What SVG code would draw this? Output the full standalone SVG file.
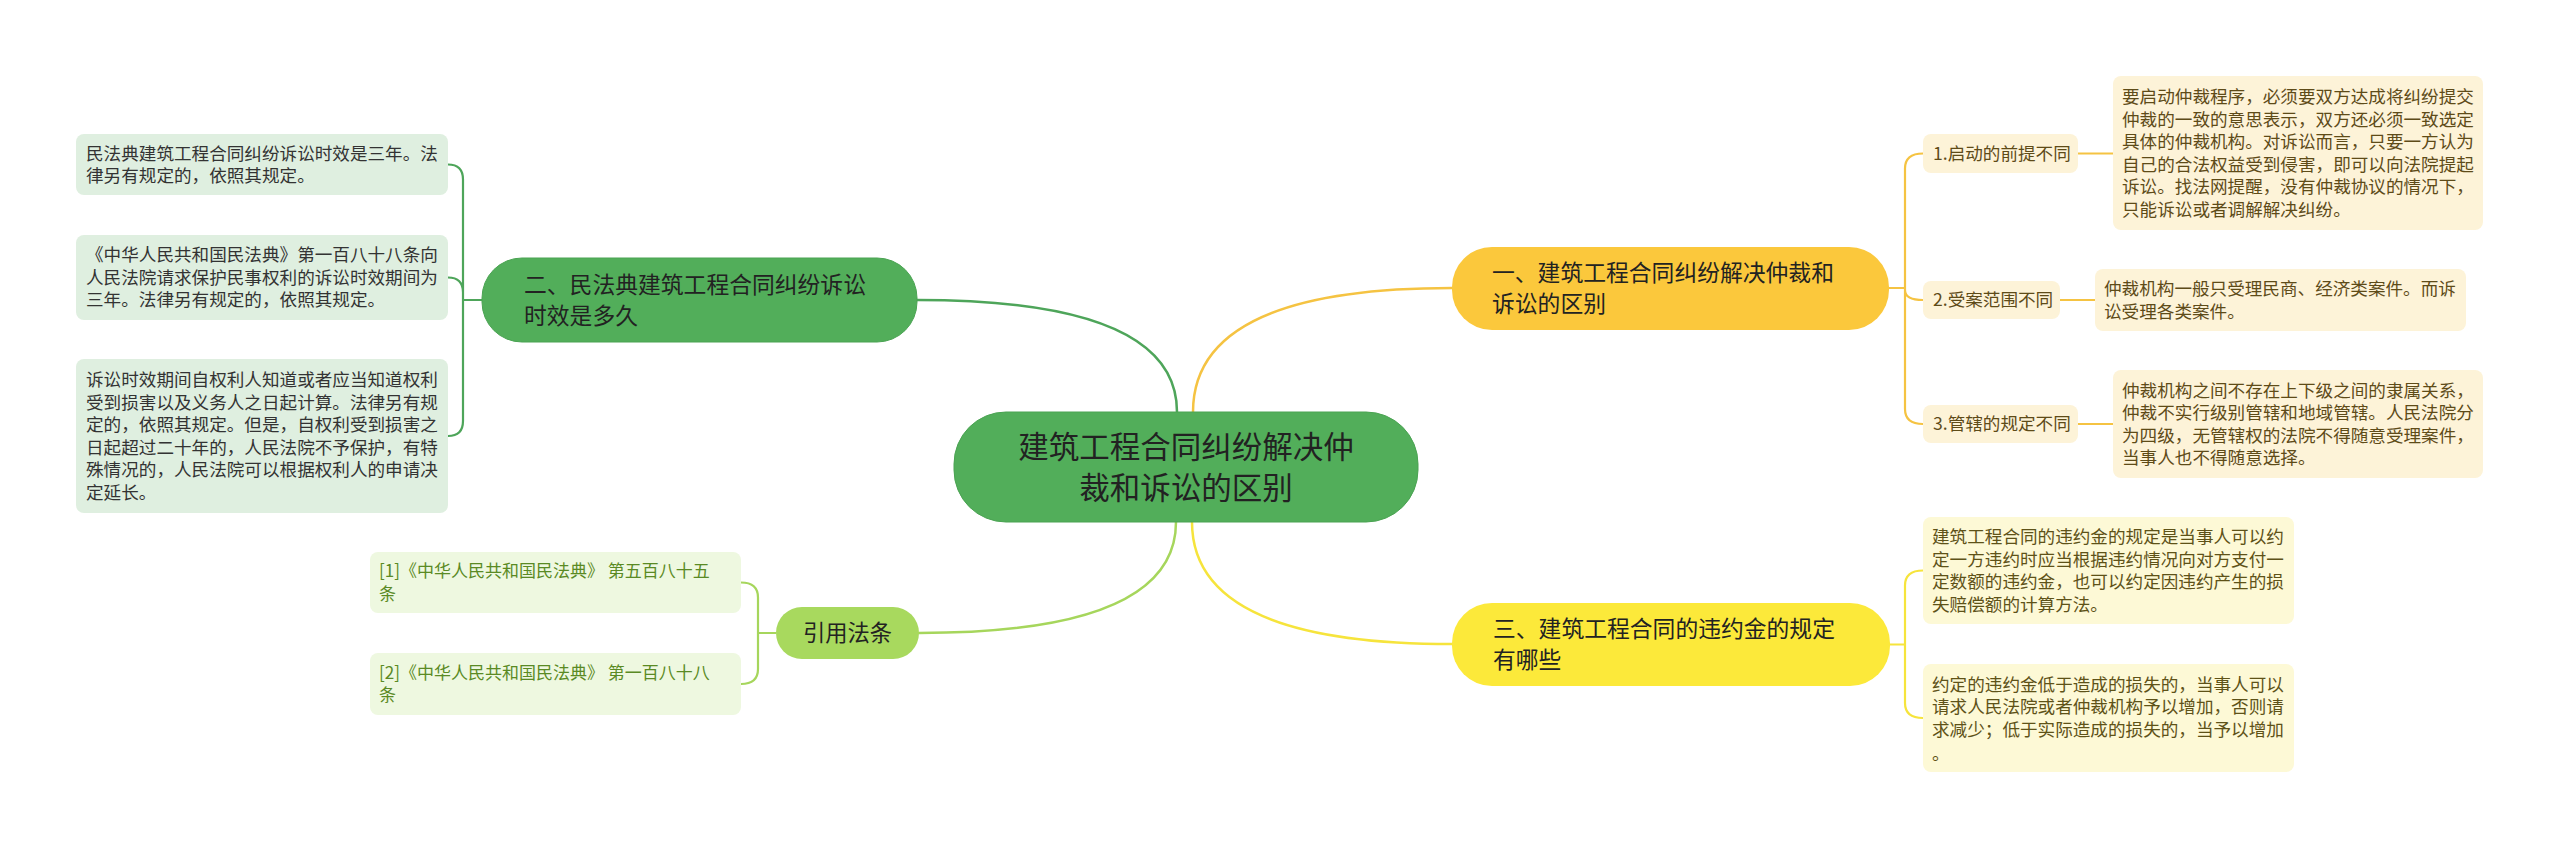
<svg xmlns="http://www.w3.org/2000/svg" width="2560" height="849" viewBox="0 0 2560 849">
<style>
text{font-family:"Noto Sans CJK SC","Noto Sans",sans-serif;}
.c{fill:none;stroke-width:2.5;stroke-linecap:round}
.b{fill:none;stroke-width:2.2}
.g{stroke:#4ea55a}.o{stroke:#f5c342}.y{stroke:#f6e43c}.l{stroke:#a6d65c}
.dt{font-size:17.6px}
.gt{fill:#333}.ot{fill:#5e4b18}.yt{fill:#5e5218}.lt{fill:#5a8a24}
.nt{font-size:22.8px;fill:#222}
</style>
<rect width="2560" height="849" fill="#fff"/>
<g id="connectors">
<path class="c g" d="M1177 412 Q1177 300 917 300"/>
<path class="c o" d="M1193 412 Q1193 288 1452 288"/>
<path class="c l" d="M1176 522 Q1176 633 919 633"/>
<path class="c y" d="M1192 522 Q1192 644 1452 644"/>
<path class="b g" d="M482 300 H463 V179.5 Q463 164.5 448 164.5 M463 300 V292.5 Q463 277.5 448 277.5 M463 300 V421 Q463 436 448 436"/>
<path class="b o" d="M1889 288 H1905 V168.5 Q1905 153.5 1923 153.5 M1905 288 V290 Q1905 300 1923 300 M1905 288 V409 Q1905 424 1923 424"/>
<path class="b o" d="M2078 153.5 H2113 M2060 300 H2095 M2078 424 H2113"/>
<path class="b y" d="M1890 644.5 H1905 V585.5 Q1905 570.5 1923 570.5 M1905 644.5 V703 Q1905 718 1923 718"/>
<path class="b l" d="M776 633 H758 V597.5 Q758 582.5 741 582.5 M758 633 V669 Q758 684 741 684"/>
</g>
<g id="root">
<rect x="954" y="412" width="464" height="110" rx="52" fill="#52ae5a" stroke="#4aa352" stroke-width="1"/>
<text x="1186" y="457.5" font-size="30.5" fill="#222" text-anchor="middle">建筑工程合同纠纷解决仲</text>
<text x="1186" y="498.5" font-size="30.5" fill="#222" text-anchor="middle">裁和诉讼的区别</text>
</g>
<g id="n2">
<rect x="482" y="258" width="435" height="84" rx="40" fill="#52ae5a" stroke="#4aa352" stroke-width="1"/>
<text class="nt" x="524" y="292.7">二、民法典建筑工程合同纠纷诉讼</text>
<text class="nt" x="524" y="323.7">时效是多久</text>
</g>
<g id="n2a">
<rect x="76" y="134" width="372" height="61" rx="8" fill="#dfefe0"/>
<text class="dt gt" x="86" y="159.5">民法典建筑工程合同纠纷诉讼时效是三年。法</text>
<text class="dt gt" x="86" y="182">律另有规定的，依照其规定。</text>
</g>
<g id="n2b">
<rect x="76" y="235" width="372" height="85" rx="8" fill="#dfefe0"/>
<text class="dt gt" x="86" y="261.3">《中华人民共和国民法典》第一百八十八条向</text>
<text class="dt gt" x="86" y="283.8">人民法院请求保护民事权利的诉讼时效期间为</text>
<text class="dt gt" x="86" y="306.3">三年。法律另有规定的，依照其规定。</text>
</g>
<g id="n2c">
<rect x="76" y="359" width="372" height="154" rx="8" fill="#dfefe0"/>
<text class="dt gt" x="86" y="386">诉讼时效期间自权利人知道或者应当知道权利</text>
<text class="dt gt" x="86" y="408.5">受到损害以及义务人之日起计算。法律另有规</text>
<text class="dt gt" x="86" y="431">定的，依照其规定。但是，自权利受到损害之</text>
<text class="dt gt" x="86" y="453.5">日起超过二十年的，人民法院不予保护，有特</text>
<text class="dt gt" x="86" y="476">殊情况的，人民法院可以根据权利人的申请决</text>
<text class="dt gt" x="86" y="498.5">定延长。</text>
</g>
<g id="n1">
<rect x="1452" y="247" width="437" height="83" rx="40" fill="#fbc83c"/>
<text class="nt" x="1492" y="281.2">一、建筑工程合同纠纷解决仲裁和</text>
<text class="nt" x="1492" y="312.2">诉讼的区别</text>
</g>
<g id="n1a">
<rect x="1923" y="134" width="155" height="39" rx="8" fill="#fdf3d8"/>
<text class="dt ot" x="1933" y="159.8">1.启动的前提不同</text>
</g>
<g id="n1a1">
<rect x="2113" y="76" width="370" height="154" rx="8" fill="#fdf3d8"/>
<text class="dt ot" x="2122" y="103">要启动仲裁程序，必须要双方达成将纠纷提交</text>
<text class="dt ot" x="2122" y="125.5">仲裁的一致的意思表示，双方还必须一致选定</text>
<text class="dt ot" x="2122" y="148">具体的仲裁机构。对诉讼而言，只要一方认为</text>
<text class="dt ot" x="2122" y="170.5">自己的合法权益受到侵害，即可以向法院提起</text>
<text class="dt ot" x="2122" y="193">诉讼。找法网提醒，没有仲裁协议的情况下，</text>
<text class="dt ot" x="2122" y="215.5">只能诉讼或者调解解决纠纷。</text>
</g>
<g id="n1b">
<rect x="1923" y="281" width="137" height="38" rx="8" fill="#fdf3d8"/>
<text class="dt ot" x="1933" y="306.3">2.受案范围不同</text>
</g>
<g id="n1b1">
<rect x="2095" y="269" width="371" height="62" rx="8" fill="#fdf3d8"/>
<text class="dt ot" x="2104" y="295">仲裁机构一般只受理民商、经济类案件。而诉</text>
<text class="dt ot" x="2104" y="317.5">讼受理各类案件。</text>
</g>
<g id="n1c">
<rect x="1923" y="405" width="155" height="38" rx="8" fill="#fdf3d8"/>
<text class="dt ot" x="1933" y="430.3">3.管辖的规定不同</text>
</g>
<g id="n1c1">
<rect x="2113" y="370" width="370" height="108" rx="8" fill="#fdf3d8"/>
<text class="dt ot" x="2122" y="396.5">仲裁机构之间不存在上下级之间的隶属关系，</text>
<text class="dt ot" x="2122" y="419">仲裁不实行级别管辖和地域管辖。人民法院分</text>
<text class="dt ot" x="2122" y="441.5">为四级，无管辖权的法院不得随意受理案件，</text>
<text class="dt ot" x="2122" y="464">当事人也不得随意选择。</text>
</g>
<g id="n3">
<rect x="1452" y="603" width="438" height="83" rx="40" fill="#fce93a"/>
<text class="nt" x="1493" y="637.2">三、建筑工程合同的违约金的规定</text>
<text class="nt" x="1493" y="668.2">有哪些</text>
</g>
<g id="n3a">
<rect x="1923" y="517" width="371" height="107" rx="8" fill="#fdf9d6"/>
<text class="dt yt" x="1932" y="543">建筑工程合同的违约金的规定是当事人可以约</text>
<text class="dt yt" x="1932" y="565.5">定一方违约时应当根据违约情况向对方支付一</text>
<text class="dt yt" x="1932" y="588">定数额的违约金，也可以约定因违约产生的损</text>
<text class="dt yt" x="1932" y="610.5">失赔偿额的计算方法。</text>
</g>
<g id="n3b">
<rect x="1923" y="664" width="371" height="108" rx="8" fill="#fdf9d6"/>
<text class="dt yt" x="1932" y="690.5">约定的违约金低于造成的损失的，当事人可以</text>
<text class="dt yt" x="1932" y="713">请求人民法院或者仲裁机构予以增加，否则请</text>
<text class="dt yt" x="1932" y="735.5">求减少；低于实际造成的损失的，当予以增加</text>
<text class="dt yt" x="1932" y="760">。</text>
</g>
<g id="n4">
<rect x="776" y="607" width="143" height="52" rx="26" fill="#a8d95e"/>
<text x="847.5" y="641" font-size="22.3" fill="#222" text-anchor="middle">引用法条</text>
</g>
<g id="n4a">
<rect x="370" y="552" width="371" height="61" rx="8" fill="#eef8e0"/>
<text class="lt" font-size="17" x="379" y="577.4">[1]《中华人民共和国民法典》 第五百八十五</text>
<text class="lt" font-size="17" x="379" y="599.9">条</text>
</g>
<g id="n4b">
<rect x="370" y="653" width="371" height="62" rx="8" fill="#eef8e0"/>
<text class="lt" font-size="17" x="379" y="678.9">[2]《中华人民共和国民法典》 第一百八十八</text>
<text class="lt" font-size="17" x="379" y="701.4">条</text>
</g>
</svg>
